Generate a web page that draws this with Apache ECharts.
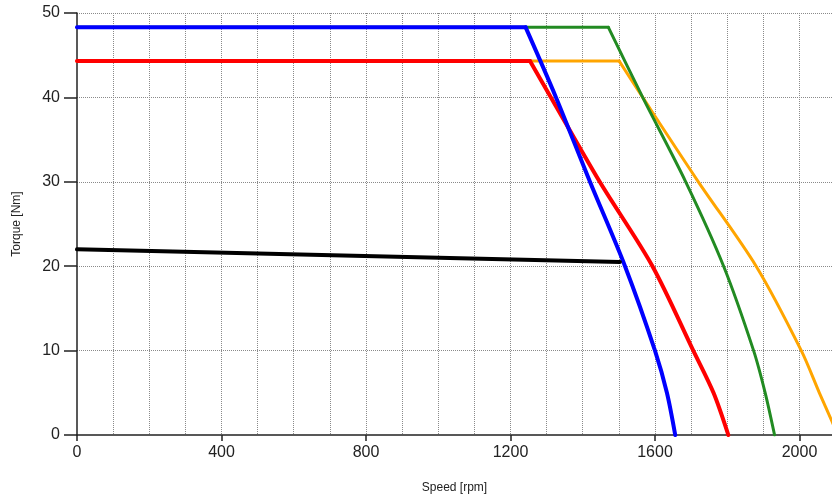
<!DOCTYPE html>
<html>
<head>
<meta charset="utf-8">
<script src="https://cdn.jsdelivr.net/npm/echarts@6/dist/echarts.min.js"></script>
<style>html,body{margin:0;padding:0;background:#fff}#c{width:832px;height:499px}</style>
</head>
<body>
<div id="c"></div>
<script>
// Data (speed in rpm, torque in Nm)
// constant-torque part (flat) and field-weakening part (falling) of each curve
var blueSpeed   = [0, 1242, 1326, 1420, 1517, 1600, 1633, 1656];
var blueTorque  = [48.3, 48.3, 40, 30, 20, 10, 5, 0];
var redSpeed    = [0, 1254, 1312, 1447, 1593, 1706, 1762, 1803];
var redTorque   = [44.3, 44.3, 40, 30, 20, 10, 5, 0];
var greenSpeed  = [0, 1471, 1566, 1685, 1790, 1873, 1905, 1931];
var greenTorque = [48.3, 48.3, 40, 30, 20, 10, 5, 0];
var orangeSpeed = [0, 1501, 1566, 1720, 1880, 2005, 2055, 2090, 2106];
var orangeTorque= [44.3, 44.3, 40, 30, 20, 10, 5, 1.6, 0];
var blackSpeed  = [0, 1503];
var blackTorque = [22.0, 20.5];
var xTickLabels = [0, 400, 800, 1200, 1600, 2000];
var yTickLabels = [0, 10, 20, 30, 40, 50];

function pairs(xs, ys) { return xs.map(function (x, i) { return [x, ys[i]]; }); }

var gridLine = { show: true, showMaxLine: false, showMinLine: false,
  lineStyle: { color: '#8a8a8a', type: [1, 1], width: 1 } };
var font = 'Liberation Sans, Arial, sans-serif';

function seg(xs, ys, color, width, smooth) {
  return {
    type: 'line', xAxisIndex: 0, yAxisIndex: 0,
    data: pairs(xs, ys), symbol: 'none', clip: true,
    smooth: smooth ? 0.3 : false,
    lineStyle: { color: color, width: width, join: 'round', cap: 'round' },
    itemStyle: { color: color }
  };
}
// flat part = first two points, falling part = from second point on
function curve(xs, ys, color, width) {
  return [
    seg(xs.slice(0, 2), ys.slice(0, 2), color, width, false),
    seg(xs.slice(1), ys.slice(1), color, width, true)
  ];
}

var series = [].concat(
  curve(orangeSpeed, orangeTorque, '#FFA500', 3),
  curve(greenSpeed, greenTorque, '#228B22', 3),
  curve(redSpeed, redTorque, '#FF0000', 4),
  curve(blueSpeed, blueTorque, '#0000FF', 4),
  [seg(blackSpeed, blackTorque, '#000000', 4, false)]
);

var chart = echarts.init(document.getElementById('c'), null, { renderer: 'canvas' });
chart.setOption({
  animation: false,
  backgroundColor: '#fff',
  grid: { left: 77, top: 13, right: 0, bottom: 64, containLabel: false },
  xAxis: [{
    type: 'value', min: 0, max: 2090, interval: 400,
    name: 'Speed [rpm]', nameLocation: 'middle', nameGap: 47,
    nameTextStyle: { color: '#222', fontSize: 12, fontFamily: font },
    axisLine: { show: true, onZero: false, lineStyle: { color: '#222', width: 1.5 } },
    axisTick: { show: true, inside: false, length: 6, customValues: xTickLabels,
      lineStyle: { color: '#222', width: 1.5 } },
    axisLabel: { show: true, margin: 10, color: '#222', fontSize: 16, fontFamily: font, showMaxLabel: false,
      formatter: function (v) { return xTickLabels.indexOf(v) >= 0 ? String(v) : ''; } },
    splitLine: { show: false }
  }, {
    type: 'value', min: 0, max: 2090, interval: 100, position: 'bottom',
    axisLine: { show: false }, axisTick: { show: false }, axisLabel: { show: false },
    splitLine: gridLine
  }],
  yAxis: {
    type: 'value', min: 0, max: 50, interval: 10,
    name: 'Torque [Nm]', nameLocation: 'middle', nameGap: 54, nameRotate: 90,
    nameTextStyle: { color: '#222', fontSize: 12, fontFamily: font },
    axisLine: { show: true, onZero: false, lineStyle: { color: '#222', width: 1.5 } },
    axisTick: { show: true, inside: false, length: 13, lineStyle: { color: '#222', width: 1.5 } },
    axisLabel: { show: true, margin: 17, color: '#222', fontSize: 16, fontFamily: font,
      formatter: function (v) { return yTickLabels.indexOf(v) >= 0 ? String(v) : ''; } },
    splitLine: { show: true, showMinLine: false, lineStyle: { color: '#8a8a8a', type: [1, 1], width: 1 } }
  },
  series: series
});
</script>
</body>
</html>
